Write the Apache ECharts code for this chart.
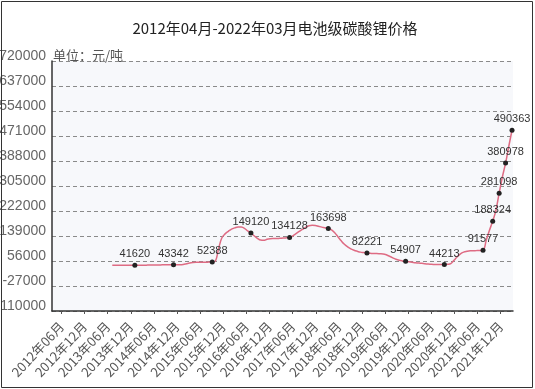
<!DOCTYPE html>
<html><head><meta charset="utf-8">
<script src="https://cdn.jsdelivr.net/npm/echarts@6/dist/echarts.min.js"></script>
<style>html,body{margin:0;padding:0;background:#fff}#c{width:535px;height:389px}</style>
</head><body><div id="c"></div>
<script>
const titleText = '2012年04月-2022年03月电池级碳酸锂价格';
const unitText = '单位：元/吨';
const xLabels = ['2012年06月','2012年12月','2013年06月','2013年12月','2014年06月','2014年12月',
  '2015年06月','2015年12月','2016年06月','2016年12月','2017年06月','2017年12月',
  '2018年06月','2018年12月','2019年06月','2019年12月','2020年06月','2020年12月',
  '2021年06月','2021年12月'];
const yTicks = [-110000,-27000,56000,139000,222000,305000,388000,471000,554000,637000,720000];
const price = [
  41500,41500,41600,41600,41600,41600,41600,41620,
  41800,42000,42200,42400,42600,42800,43000,43100,43200,43300,43300,43342,
  43400,43500,44500,47000,49500,51000,51800,52000,52100,52200,52300,52388,
  56000,98000,133000,146000,154600,162000,166000,168900,168500,164600,156000,149120,
  139700,131400,125400,124700,128000,129700,130400,130700,131400,132000,133000,134128,
  139700,147000,154600,161200,167900,172900,174500,173900,171200,168500,166200,163698,
  159600,149600,136300,123000,111400,103100,96500,91500,88200,85500,83900,82221,
  81600,80600,80600,80200,79600,76600,71600,66600,61600,58300,56300,54907,
  53300,51700,50000,49400,48400,46700,45700,45000,44700,44400,44100,44213,
  45000,47400,58300,70000,80000,85500,88200,89900,90200,90500,90900,91577,
  124700,157900,188324,224300,281098,334900,380978,437000,490363
];
const markedIdx = [7,19,31,43,55,67,79,91,103,115,118,120,122,124];

const labelIdx = xLabels.map((_, i) => i);
const lineData = price.map((v, i) => {
  if (markedIdx.indexOf(i) >= 0) {
    return {value: [i, v], symbol: 'circle', symbolSize: 5,
      itemStyle: {color: '#222', borderWidth: 0},
      label: {show: true}};
  }
  return {value: [i, v]};
});

const chart = echarts.init(document.getElementById('c'), null, {renderer: 'canvas'});
chart.setOption({
  animation: false,
  backgroundColor: '#fff',
  grid: {left: 52, top: 61, right: 22, bottom: 78, show: true, backgroundColor: '#f7f8fb', borderWidth: 0,
    containLabel: false, outerBoundsMode: 'none'},
  graphic: [
    {type: 'rect', shape: {x: 1.5, y: 1.5, width: 531, height: 386}, style: {fill: 'none', stroke: '#333', lineWidth: 1}, z: 100},
    {type: 'text', x: 275, y: 28, style: {text: titleText, font: '15px "Noto Sans CJK SC", sans-serif', fill: '#222', textAlign: 'center', textVerticalAlign: 'middle'}},
    {type: 'text', x: 53, y: 55, style: {text: unitText, font: '13px "Noto Sans CJK SC", sans-serif', fill: '#555', textAlign: 'left', textVerticalAlign: 'middle'}}
  ],
  xAxis: [
    {type: 'value', min: -0.41, max: 19.53, position: 'bottom',
      axisLine: {show: true, onZero: false, lineStyle: {color: '#333', width: 1.5}},
      axisTick: {show: true, customValues: labelIdx, length: 3, lineStyle: {color: '#555'}},
      axisLabel: {customValues: labelIdx, formatter: v => xLabels[Math.round(v)], rotate: 47, margin: 13,
        fontSize: 13, color: '#555', fontFamily: '"Noto Sans CJK SC", sans-serif'},
      splitLine: {show: false}},
    {type: 'value', min: -18.7, max: 124.3, show: false}
  ],
  yAxis: {type: 'value', min: -110000, max: 720000,
    axisLine: {show: true, onZero: false, lineStyle: {color: '#333', width: 1.5}},
    axisTick: {show: false, customValues: yTicks},
    axisLabel: {customValues: yTicks, formatter: v => String(v), fontSize: 14, color: '#666', margin: 6,
      fontFamily: '"Liberation Sans", Arial, sans-serif', verticalAlign: 'bottom', lineHeight: 10},
    splitLine: {show: true, lineStyle: {color: '#8a8a8a', type: [4, 3], width: 1}}
  },
  series: [{
    type: 'line', xAxisIndex: 1, data: lineData, smooth: 0.4,
    symbol: 'none', showSymbol: true,
    lineStyle: {color: '#de6b83', width: 1.5},
    itemStyle: {color: '#222'},
    label: {show: false, position: 'top', distance: 3, fontSize: 11, color: '#333',
      fontFamily: '"Liberation Sans", Arial, sans-serif', formatter: p => p.value[1]}
  }]
});
</script></body></html>
